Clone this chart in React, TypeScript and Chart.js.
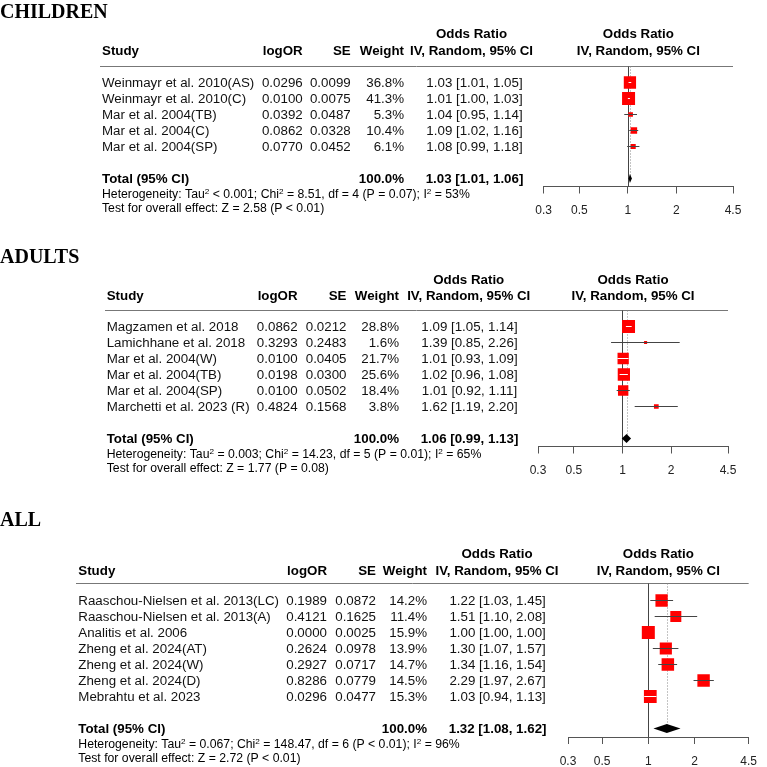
import React, { useEffect, useRef } from "react";
import { Chart, registerables } from "chart.js";

Chart.register(...registerables);

const SANS = "'Liberation Sans', Arial, Helvetica, sans-serif";
const SERIF = "'Liberation Serif', 'Times New Roman', serif";

// ---------------- DATA ----------------
const X_TICKS = [0.3, 0.5, 1, 2, 4.5];

// CHILDREN
const CHILD_STUDIES = ["Weinmayr et al. 2010(AS)", "Weinmayr et al. 2010(C)", "Mar et al. 2004(TB)", "Mar et al. 2004(C)", "Mar et al. 2004(SP)"];
const CHILD_LOGOR = [0.0296, 0.01, 0.0392, 0.0862, 0.077];
const CHILD_SE = [0.0099, 0.0075, 0.0487, 0.0328, 0.0452];
const CHILD_WEIGHT = [36.8, 41.3, 5.3, 10.4, 6.1];
const CHILD_OR = [1.03, 1.01, 1.04, 1.09, 1.08];
const CHILD_LO = [1.01, 1.0, 0.95, 1.02, 0.99];
const CHILD_HI = [1.05, 1.03, 1.14, 1.16, 1.18];
const CHILD_TOTAL = [1.03, 1.01, 1.06];
const CHILD_HET = ["< 0.001", "8.51", "4", "= 0.07", "53"];
const CHILD_TEST = ["2.58", "< 0.01"];

// ADULTS
const ADULT_STUDIES = ["Magzamen et al. 2018", "Lamichhane et al. 2018", "Mar et al. 2004(W)", "Mar et al. 2004(TB)", "Mar et al. 2004(SP)", "Marchetti et al. 2023 (R)"];
const ADULT_LOGOR = [0.0862, 0.3293, 0.01, 0.0198, 0.01, 0.4824];
const ADULT_SE = [0.0212, 0.2483, 0.0405, 0.03, 0.0502, 0.1568];
const ADULT_WEIGHT = [28.8, 1.6, 21.7, 25.6, 18.4, 3.8];
const ADULT_OR = [1.09, 1.39, 1.01, 1.02, 1.01, 1.62];
const ADULT_LO = [1.05, 0.85, 0.93, 0.96, 0.92, 1.19];
const ADULT_HI = [1.14, 2.26, 1.09, 1.08, 1.11, 2.2];
const ADULT_TOTAL = [1.06, 0.99, 1.13];
const ADULT_HET = ["= 0.003", "14.23", "5", "= 0.01", "65"];
const ADULT_TEST = ["1.77", "= 0.08"];

// ALL
const ALL_STUDIES = ["Raaschou-Nielsen et al. 2013(LC)", "Raaschou-Nielsen et al. 2013(A)", "Analitis et al. 2006", "Zheng et al. 2024(AT)", "Zheng et al. 2024(W)", "Zheng et al. 2024(D)", "Mebrahtu et al. 2023"];
const ALL_LOGOR = [0.1989, 0.4121, 0.0, 0.2624, 0.2927, 0.8286, 0.0296];
const ALL_SE = [0.0872, 0.1625, 0.0025, 0.0978, 0.0717, 0.0779, 0.0477];
const ALL_WEIGHT = [14.2, 11.4, 15.9, 13.9, 14.7, 14.5, 15.3];
const ALL_OR = [1.22, 1.51, 1.0, 1.3, 1.34, 2.29, 1.03];
const ALL_LO = [1.03, 1.1, 1.0, 1.07, 1.16, 1.97, 0.94];
const ALL_HI = [1.45, 2.08, 1.0, 1.57, 1.54, 2.67, 1.13];
const ALL_TOTAL = [1.32, 1.08, 1.62];
const ALL_HET = ["= 0.067", "148.47", "6", "< 0.01", "96"];
const ALL_TEST = ["2.72", "< 0.01"];

const TOTAL_WEIGHT = 100.0;

// ---------------- LAYOUT ----------------
const W = 767;
const H = 800;
const ROW_H = 16;
const TICK_LEN = 7;
const TICK_PAD = 10;
const AXIS_H = TICK_LEN + 14.4 + 2 * TICK_PAD;
const MAX_BOX = 13;
const RED = "rgb(255,0,0)";
const LINE = "#444";
const TXT_SX = 1.11;
const NOTE_SX = 1.02;

type Layout = {
  titleY: number; hdr1Y: number; hdr2Y: number; sepY: number; row0: number; axisY: number;
  studyX: number; sepX: number; logorR: number; seR: number; weightR: number; ciC: number; hdrC: number;
  xLeft: number; xRight: number;
};

const LAYOUT_CHILD: Layout = { titleY: 18, hdr1Y: 38, hdr2Y: 55, sepY: 66.5, row0: 82.5, axisY: 186.5, studyX: 102, sepX: 100, logorR: 302.7, seR: 350.7, weightR: 404, ciC: 474.5, hdrC: 471.5, xLeft: 543.7, xRight: 733 };
const LAYOUT_ADULT: Layout = { titleY: 263, hdr1Y: 284.3, hdr2Y: 300, sepY: 310.5, row0: 326.5, axisY: 446.5, studyX: 106.7, sepX: 105, logorR: 297.6, seR: 346.5, weightR: 399, ciC: 469.5, hdrC: 468.7, xLeft: 538, xRight: 728 };
const LAYOUT_ALL: Layout = { titleY: 526, hdr1Y: 558.3, hdr2Y: 575, sepY: 583.5, row0: 600.5, axisY: 737, studyX: 78.3, sepX: 76, logorR: 327, seR: 376, weightR: 427, ciC: 497.6, hdrC: 497, xLeft: 568, xRight: 756.3 };

type Panel = {
  title: string; studies: string[]; logor: number[]; se: number[]; weight: number[];
  or: number[]; lo: number[]; hi: number[]; total: number[]; het: string[]; test: string[]; L: Layout;
};

const PANELS: Panel[] = [
  { title: "CHILDREN", studies: CHILD_STUDIES, logor: CHILD_LOGOR, se: CHILD_SE, weight: CHILD_WEIGHT, or: CHILD_OR, lo: CHILD_LO, hi: CHILD_HI, total: CHILD_TOTAL, het: CHILD_HET, test: CHILD_TEST, L: LAYOUT_CHILD },
  { title: "ADULTS", studies: ADULT_STUDIES, logor: ADULT_LOGOR, se: ADULT_SE, weight: ADULT_WEIGHT, or: ADULT_OR, lo: ADULT_LO, hi: ADULT_HI, total: ADULT_TOTAL, het: ADULT_HET, test: ADULT_TEST, L: LAYOUT_ADULT },
  { title: "ALL", studies: ALL_STUDIES, logor: ALL_LOGOR, se: ALL_SE, weight: ALL_WEIGHT, or: ALL_OR, lo: ALL_LO, hi: ALL_HI, total: ALL_TOTAL, het: ALL_HET, test: ALL_TEST, L: LAYOUT_ALL },
];

// ---------------- DRAWING HELPERS ----------------
function txt(ctx: CanvasRenderingContext2D, s: string, x: number, y: number, align: string, font: string, sx = TXT_SX, color = "#000") {
  ctx.save();
  ctx.font = font;
  ctx.fillStyle = color;
  ctx.textBaseline = "alphabetic";
  ctx.textAlign = "left";
  const w = ctx.measureText(s).width * sx;
  const left = align === "left" ? x : align === "right" ? x - w : x - w / 2;
  ctx.translate(left, y);
  ctx.scale(sx, 1);
  ctx.fillText(s, 0, 0);
  ctx.restore();
  return w;
}

function rich(ctx: CanvasRenderingContext2D, parts: [string, boolean][], x: number, y: number) {
  let cx = x;
  for (const [s, sup] of parts) {
    cx += txt(ctx, s, cx, sup ? y - 4.5 : y, "left", sup ? `8px ${SANS}` : `12px ${SANS}`, NOTE_SX, "#000");
  }
}

const ciText = (o: number, l: number, h: number) => `${o.toFixed(2)} [${l.toFixed(2)}, ${h.toFixed(2)}]`;

function makePlugin(p: Panel) {
  const L = p.L;
  const totalRow = p.studies.length + 1;
  return {
    id: "forestTable",
    beforeDatasetsDraw(chart: any) {
      const ctx = chart.ctx as CanvasRenderingContext2D;
      const xs = chart.scales.x, ys = chart.scales.y;
      const ca = chart.chartArea;
      ctx.save();
      ctx.strokeStyle = "#777";
      ctx.lineWidth = 1;
      ctx.beginPath();
      ctx.moveTo(L.sepX, ca.top);
      ctx.lineTo(ca.right, ca.top);
      ctx.stroke();
      const xe = Math.round(xs.getPixelForValue(p.total[0])) + 0.5;
      ctx.strokeStyle = "#888";
      ctx.setLineDash([1, 2]);
      ctx.beginPath();
      ctx.moveTo(xe, ca.top);
      ctx.lineTo(xe, ys.getPixelForValue(totalRow));
      ctx.stroke();
      ctx.setLineDash([]);
      const x1 = Math.round(xs.getPixelForValue(1)) + 0.5;
      ctx.strokeStyle = "#444";
      ctx.beginPath();
      ctx.moveTo(x1, ca.top);
      ctx.lineTo(x1, ca.bottom);
      ctx.stroke();
      ctx.restore();
    },
    afterDatasetsDraw(chart: any) {
      const ctx = chart.ctx as CanvasRenderingContext2D;
      const xs = chart.scales.x, ys = chart.scales.y;
      const yc = ys.getPixelForValue(totalRow);
      const xl = xs.getPixelForValue(p.total[1]);
      const xe = xs.getPixelForValue(p.total[0]);
      const xh = xs.getPixelForValue(p.total[2]);
      ctx.save();
      ctx.fillStyle = "#000";
      ctx.beginPath();
      ctx.moveTo(xl, yc);
      ctx.lineTo(xe, yc - 4.5);
      ctx.lineTo(xh, yc);
      ctx.lineTo(xe, yc + 4.5);
      ctx.closePath();
      ctx.fill();
      ctx.restore();
    },
    afterDraw(chart: any) {
      const ctx = chart.ctx as CanvasRenderingContext2D;
      const ys = chart.scales.y;
      const ca = chart.chartArea;
      const fc = (ca.left + ca.right) / 2;
      const B = `bold 12px ${SANS}`;
      const R = `12px ${SANS}`;
      txt(ctx, p.title, 0, L.titleY, "left", `bold 20px ${SERIF}`, 1);
      txt(ctx, "Odds Ratio", L.hdrC, L.hdr1Y, "center", B);
      txt(ctx, "Odds Ratio", fc, L.hdr1Y, "center", B);
      txt(ctx, "Study", L.studyX, L.hdr2Y, "left", B);
      txt(ctx, "logOR", L.logorR, L.hdr2Y, "right", B);
      txt(ctx, "SE", L.seR, L.hdr2Y, "right", B);
      txt(ctx, "Weight", L.weightR, L.hdr2Y, "right", B);
      txt(ctx, "IV, Random, 95% CI", L.hdrC, L.hdr2Y, "center", B);
      txt(ctx, "IV, Random, 95% CI", fc, L.hdr2Y, "center", B);
      p.studies.forEach((s, i) => {
        const y = ys.getPixelForValue(i) + 4.3;
        txt(ctx, s, L.studyX, y, "left", R, TXT_SX, "#111");
        txt(ctx, p.logor[i].toFixed(4), L.logorR, y, "right", R, TXT_SX, "#111");
        txt(ctx, p.se[i].toFixed(4), L.seR, y, "right", R, TXT_SX, "#111");
        txt(ctx, p.weight[i].toFixed(1) + "%", L.weightR, y, "right", R, TXT_SX, "#111");
        txt(ctx, ciText(p.or[i], p.lo[i], p.hi[i]), L.ciC, y, "center", R, TXT_SX, "#111");
      });
      const ty = ys.getPixelForValue(totalRow) + 4.3;
      txt(ctx, "Total (95% CI)", L.studyX, ty, "left", B);
      txt(ctx, TOTAL_WEIGHT.toFixed(1) + "%", L.weightR, ty, "right", B);
      txt(ctx, ciText(p.total[0], p.total[1], p.total[2]), L.ciC, ty, "center", B);
      const [tau, chi, df, ph, i2] = p.het;
      rich(ctx, [
        ["Heterogeneity: Tau", false], ["2", true], [` ${tau}; Chi`, false], ["2", true],
        [` = ${chi}, df = ${df} (P ${ph}); I`, false], ["2", true], [` = ${i2}%`, false],
      ], L.studyX, ty + 15.5);
      rich(ctx, [[`Test for overall effect: Z = ${p.test[0]} (P ${p.test[1]})`, false]], L.studyX, ty + 29.5);
    },
  };
}

function buildConfig(p: Panel): any {
  const L = p.L;
  const wmax = Math.max(...p.weight);
  const sides = p.weight.map((w) => MAX_BOX * Math.sqrt(w / wmax));
  const ciSets = p.studies.map((_, i) => ({
    type: "line",
    data: [{ x: p.lo[i], y: i }, { x: p.hi[i], y: i }],
    borderWidth: 1,
    pointRadius: 0,
    pointHoverRadius: 0,
    order: 0,
    boxSide: sides[i],
    borderColor: (c: any) => {
      const xs = c.chart.scales && c.chart.scales.x;
      const ds = c.dataset;
      if (!xs || !ds) return LINE;
      const w = Math.abs(xs.getPixelForValue(ds.data[1].x) - xs.getPixelForValue(ds.data[0].x));
      return w <= ds.boxSide ? "#fff" : LINE;
    },
  }));
  const boxes = {
    type: "scatter",
    data: p.or.map((v, i) => ({ x: v, y: i })),
    pointStyle: "rect",
    pointRadius: sides.map((s) => s / Math.SQRT2),
    pointHoverRadius: sides.map((s) => s / Math.SQRT2),
    backgroundColor: RED,
    borderWidth: 0,
    order: 1,
  };
  return {
    type: "scatter",
    data: { datasets: [...ciSets, boxes] },
    options: {
      responsive: false,
      animation: false,
      events: [],
      layout: {
        autoPadding: false,
        padding: { left: L.xLeft, right: W - L.xRight, top: L.sepY, bottom: H - L.axisY - AXIS_H },
      },
      scales: {
        x: {
          type: "logarithmic",
          min: 0.3,
          max: 4.5,
          position: "bottom",
          afterBuildTicks: (s: any) => { s.ticks = X_TICKS.map((v) => ({ value: v })); },
          ticks: {
            autoSkip: false, maxRotation: 0, minRotation: 0, padding: TICK_PAD, color: "#222",
            font: { family: SANS, size: 12 },
            callback: (v: any) => String(v),
          },
          grid: { drawOnChartArea: false, drawTicks: true, tickLength: TICK_LEN, color: "#555", lineWidth: 1 },
          border: { display: true, color: "#555", width: 1 },
        },
        y: {
          type: "linear",
          min: (L.sepY - L.row0) / ROW_H,
          max: (L.axisY - L.row0) / ROW_H,
          reverse: true,
          display: false,
        },
      },
      plugins: { legend: { display: false }, tooltip: { enabled: false } },
    },
    plugins: [makePlugin(p)],
  };
}

function ForestPanel({ panel }: { panel: Panel }) {
  const ref = useRef<HTMLCanvasElement | null>(null);
  useEffect(() => {
    if (!ref.current) return;
    const chart = new Chart(ref.current, buildConfig(panel));
    return () => chart.destroy();
  }, [panel]);
  return (
    <canvas ref={ref} width={W} height={H} style={{ position: "absolute", left: 0, top: 0, width: W, height: H }} />
  );
}

export default function App() {
  return (
    <div style={{ position: "fixed", left: 0, top: 0, width: W, height: 767, overflow: "hidden", background: "#fff" }}>
      {PANELS.map((p, i) => (
        <ForestPanel key={i} panel={p} />
      ))}
    </div>
  );
}
